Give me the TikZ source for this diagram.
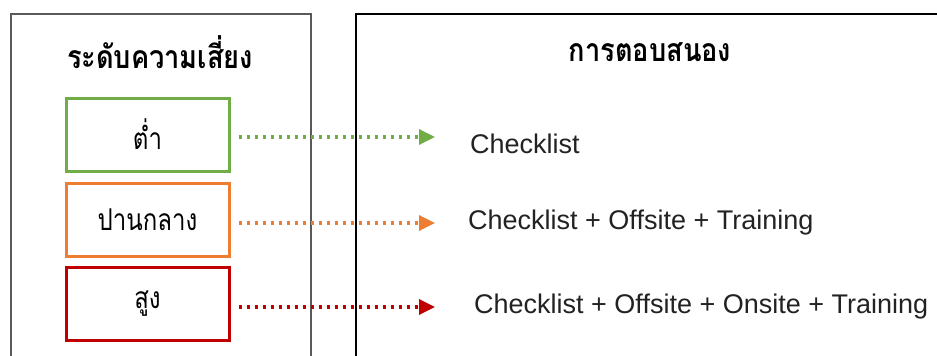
\documentclass[tikz,border=0pt]{standalone}
\usepackage{fontspec}
\usepackage{graphicx}
\newfontfamily\thaifont[Script=Thai]{Loma}
\newfontfamily\latinfont{Liberation Sans}
\usetikzlibrary{arrows.meta}
\definecolor{lowc}{HTML}{70AD47}
\definecolor{midc}{HTML}{ED7D31}
\definecolor{highc}{HTML}{C00000}
\definecolor{panelgray}{HTML}{595959}
\definecolor{txt}{HTML}{222222}
\newcommand{\thlevel}[1]{\raisebox{-2pt}{\scalebox{0.8}[1]{\thaifont\fontsize{30}{34}\selectfont #1}}}
\newcommand{\thtitle}[1]{\scalebox{0.85}[1]{\thaifont\bfseries\fontsize{32}{36}\selectfont #1}}
\tikzset{
  levelbox/.style={draw, line width=3pt, minimum width=163pt, minimum height=73pt, inner sep=0pt},
  title/.style={inner sep=0pt},
  resp/.style={anchor=west, inner sep=0pt, text=txt, font=\latinfont\fontsize{27}{30}\selectfont},
  arr/.style={line width=3.4pt, dash pattern=on 3.6pt off 4.4pt, shorten <=8pt, -{Triangle[length=16pt,width=15pt]}}
}
\begin{document}
\begin{tikzpicture}[x=1pt,y=-1pt]
\useasboundingbox (0,0) rectangle (937,356);
% panels
\draw[panelgray, line width=1.7pt] (11,370) -- (11,14) -- (311,14) -- (311,370);
\draw[black, line width=1.2pt] (356,370) -- (356,14) -- (950,14);
% titles
\node[title] (t1) at (160,52) {\thtitle{ระดับความเสี่ยง}};
\node[title] (t2) at (650,52) {\thtitle{การตอบสนอง}};
% level boxes
\node[levelbox, draw=lowc] (low) at (147.5,134.5) {\thlevel{ต่ำ}};
\node[levelbox, draw=midc] (mid) at (147.5,219.5) {\thlevel{ปานกลาง}};
\node[levelbox, draw=highc] (high) at (147.5,303.5) {\thlevel{สูง}};
% responses
\node[resp] (r1) at (470,144) {Checklist};
\node[resp] (r2) at (468,223) {Checklist + Offsite + Training};
\node[resp] (r3) at (474,307) {Checklist + Offsite + Onsite + Training};
% arrow tips
\coordinate (tip1) at (435,137);
\coordinate (tip2) at (435,223);
\coordinate (tip3) at (435,307);
\draw[arr, lowc] (low.east |- tip1) -- (tip1);
\draw[arr, midc] (mid.east |- tip2) -- (tip2);
\draw[arr, highc] (high.east |- tip3) -- (tip3);
\end{tikzpicture}
\end{document}
